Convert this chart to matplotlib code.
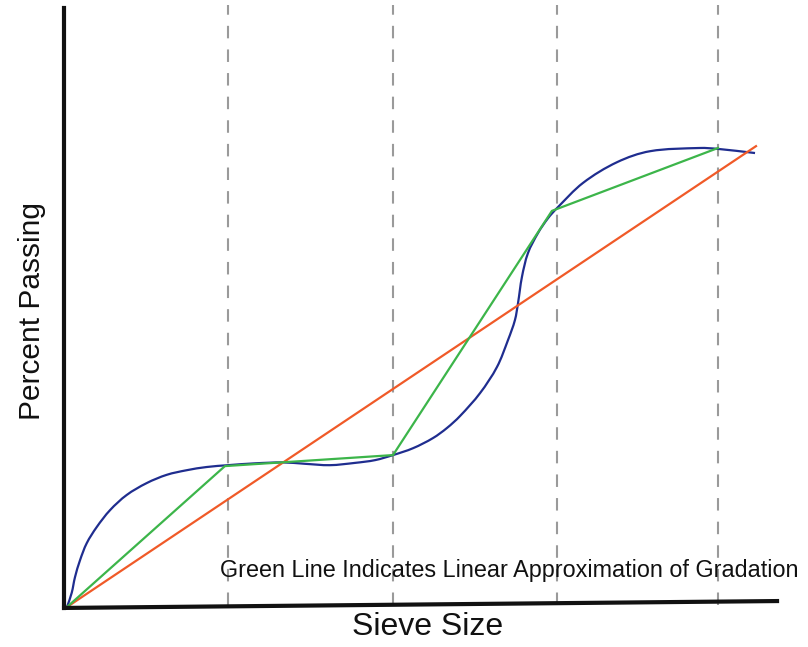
import numpy as np
import matplotlib
matplotlib.use("Agg")
import matplotlib.pyplot as plt
from matplotlib.path import Path
from matplotlib.patches import PathPatch

plt.rcParams["font.family"] = ["Liberation Sans", "DejaVu Sans"]
plt.rcParams["lines.scale_dashes"] = False

# gradation curve (x in sieve steps, y in percent passing)
blue_x = [0.000, 0.029, 0.049, 0.080, 0.121, 0.182, 0.264, 0.366, 0.489, 0.612,
          0.734, 0.857, 0.988, 1.153, 1.325, 1.460, 1.613, 1.767, 1.890, 2.000,
          2.123, 2.245, 2.331, 2.411, 2.534, 2.638, 2.706, 2.748, 2.767, 2.791,
          2.828, 2.890, 2.951, 3.006, 3.166, 3.374, 3.577, 3.883, 3.994, 4.221]
blue_y = [0.0, 3.1, 6.5, 10.2, 13.9, 17.4, 21.1, 24.4, 27.0, 28.8,
          29.8, 30.5, 30.9, 31.3, 31.5, 31.2, 30.9, 31.4, 32.0, 33.1,
          34.6, 36.8, 39.0, 41.6, 46.6, 52.3, 58.2, 62.5, 66.2, 71.9,
          77.1, 81.5, 84.7, 86.9, 92.4, 96.9, 99.3, 100.0, 99.8, 98.9]

# linear approximation
green_x = [0.0, 0.969, 2.0, 2.975, 3.994]
green_y = [0.0, 30.7, 33.1, 86.3, 100.0]

# straight line
orange_x = [0.0, 4.227]
orange_y = [0.0, 100.4]

sieves = [0.988, 2.0, 3.006, 3.994]


def smooth_path(xs, ys, sx=163.0, sy=4.59):
    # cubic bezier through the points, tangents from neighbours (in screen-like scale)
    p = np.column_stack([np.asarray(xs) * sx, np.asarray(ys) * sy])
    n = len(p)
    tang = np.zeros_like(p)
    tang[0] = p[1] - p[0]
    tang[-1] = p[-1] - p[-2]
    tang[1:-1] = p[2:] - p[:-2]
    tang /= np.linalg.norm(tang, axis=1)[:, None]
    verts = [p[0]]
    codes = [Path.MOVETO]
    for i in range(n - 1):
        d = np.linalg.norm(p[i + 1] - p[i]) / 3.0
        verts += [p[i] + tang[i] * d, p[i + 1] - tang[i + 1] * d, p[i + 1]]
        codes += [Path.CURVE4] * 3
    verts = np.array(verts) / [sx, sy]
    return Path(verts, codes)


fig = plt.figure(figsize=(8.08, 6.47), dpi=100)
ax = fig.add_axes([0, 0, 1, 1])
ax.set_xlim(-0.411, 4.546)
ax.set_ylim(-8.71, 132.24)
ax.axis("off")

for s in sieves:
    ax.plot([s, s], [0.4, 131.2], color="#9a9a9a", lw=1.5, dashes=(9, 8), zorder=1)

ax.plot(orange_x, orange_y, color="#f05a28", lw=1.6, zorder=3)
ax.add_patch(PathPatch(smooth_path(blue_x, blue_y), facecolor="none",
                       edgecolor="#1f2d8f", lw=1.6, zorder=2))
ax.plot(green_x, green_y, color="#3cb54a", lw=1.6, zorder=4)

# hand drawn axes
ax.plot([-0.018, -0.018], [-0.2, 130.6], color="#111111", lw=3, solid_capstyle="projecting", zorder=5)
ax.plot([-0.018, 4.356], [-0.2, 1.3], color="#111111", lw=3, solid_capstyle="projecting", zorder=5)

ax.text(0.939, 6.5, "Green Line Indicates Linear Approximation of Gradation",
        fontsize=16.8, ha="left", va="baseline", color="#111111")
ax.text(2.215, -6.1, "Sieve Size", fontsize=23, ha="center", va="baseline", color="#111111")
ax.text(-0.212, 64.4, "Percent Passing", fontsize=21.5, rotation=90,
        ha="center", va="center", color="#111111")

fig.savefig("out.png", dpi=100)
